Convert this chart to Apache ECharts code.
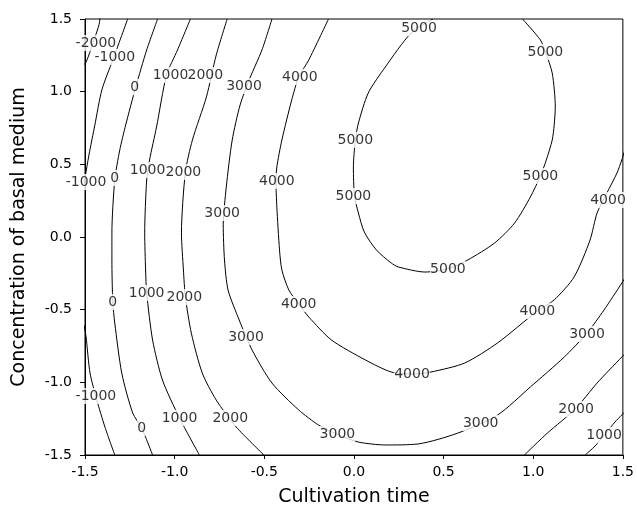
<!DOCTYPE html>
<html>
<head>
<meta charset="utf-8">
<script src="https://cdn.jsdelivr.net/npm/echarts@6/dist/echarts.min.js"></script>
<style>
  html, body { margin: 0; padding: 0; background: #fff; }
  #chart { width: 637px; height: 513px; }
</style>
</head>
<body>
<div id="chart"></div>
<script>
// contour lines, as [cultivation time, concentration]
const cM2000 = [[-1.417, 1.52], [-1.417, 1.5], [-1.456, 1.335], [-1.494, 1.204], [-1.52, 1.17]]
const cM1000Top = [[-1.262, 1.5], [-1.345, 1.218], [-1.406, 1.012], [-1.445, 0.771], [-1.478, 0.564], [-1.5, 0.406], [-1.511, 0.323]]
const cM1000Bot = [[-1.505, -0.606], [-1.494, -0.688], [-1.472, -0.936], [-1.434, -1.122], [-1.389, -1.307], [-1.334, -1.5]]
const c0 = [[-1.095, 1.5], [-1.156, 1.287], [-1.217, 1.032], [-1.273, 0.771], [-1.306, 0.599], [-1.334, 0.392], [-1.35, 0.028],
  [-1.35, -0.158], [-1.345, -0.447], [-1.334, -0.592], [-1.295, -0.936], [-1.234, -1.211], [-1.184, -1.314], [-1.123, -1.5]]
const c1000 = [[-0.912, 1.5], [-0.984, 1.287], [-1.045, 1.115], [-1.101, 0.757], [-1.14, 0.53], [-1.156, 0.392], [-1.167, 0.028],
  [-1.162, -0.227], [-1.156, -0.385], [-1.123, -0.709], [-1.068, -0.984], [-0.973, -1.245], [-0.862, -1.5]]
const c1000b = [[1.289, -1.5], [1.345, -1.438], [1.456, -1.273], [1.494, -1.225], [1.522, -1.19]]
const c2000 = [[-0.707, 1.5], [-0.768, 1.252], [-0.823, 0.963], [-0.901, 0.667], [-0.94, 0.447], [-0.962, 0.028],
  [-0.951, -0.227], [-0.94, -0.413], [-0.907, -0.661], [-0.846, -0.936], [-0.768, -1.122], [-0.657, -1.307], [-0.502, -1.5]]
const c2000b = [[0.951, -1.5], [1.079, -1.349], [1.234, -1.184], [1.356, -1.005], [1.494, -0.826], [1.522, -0.791]]
const c3000 = [[-0.457, 1.5], [-0.513, 1.287], [-0.58, 1.094], [-0.635, 0.908], [-0.679, 0.667], [-0.712, 0.344], [-0.729, 0.083],
  [-0.722, -0.158], [-0.702, -0.365], [-0.64, -0.571], [-0.568, -0.778], [-0.457, -1.005], [-0.308, -1.19], [-0.197, -1.294],
  [-0.086, -1.362], [0.025, -1.411], [0.175, -1.431], [0.358, -1.424], [0.58, -1.349], [0.801, -1.225], [0.984, -1.032],
  [1.173, -0.826], [1.3, -0.661], [1.395, -0.502], [1.494, -0.317], [1.522, -0.261]]
const c4000 = [[-0.142, 1.5], [-0.252, 1.218], [-0.308, 1.101], [-0.347, 0.943], [-0.402, 0.667], [-0.43, 0.482], [-0.435, 0.385],
  [-0.43, 0.206], [-0.415, -0.089], [-0.402, -0.227], [-0.363, -0.365], [-0.308, -0.461], [-0.252, -0.55], [-0.125, -0.709], [0.064, -0.846],
  [0.208, -0.929], [0.33, -0.943], [0.43, -0.929], [0.618, -0.867], [0.801, -0.729], [1.023, -0.509], [1.117, -0.433],
  [1.228, -0.275], [1.317, -0.021], [1.356, 0.165], [1.411, 0.303], [1.467, 0.44], [1.494, 0.53], [1.511, 0.599]]
const c5000 = [[0.94, 1.5], [1.04, 1.356], [1.068, 1.273], [1.106, 1.128], [1.123, 0.895], [1.117, 0.771], [1.106, 0.667],
  [1.073, 0.53], [1.04, 0.42], [0.984, 0.275], [0.896, 0.096], [0.785, -0.041], [0.635, -0.158], [0.524, -0.22],
  [0.396, -0.241], [0.247, -0.206], [0.208, -0.179], [0.125, -0.089], [0.058, 0.034], [0.025, 0.165], [0.003, 0.282],
  [-0.003, 0.482], [0.008, 0.667], [0.025, 0.784], [0.08, 0.991], [0.175, 1.17], [0.319, 1.404], [0.441, 1.5]]

const contourLines = [cM2000, cM1000Top, cM1000Bot, c0, c1000, c1000b, c2000, c2000b, c3000, c4000, c5000]

// label positions on the lines: [x, y, level]
const contourLabels = [
  [-1.439, 1.335, -2000], [-1.334, 1.238, -1000], [-1.494, 0.378, -1000], [-1.439, -1.094, -1000],
  [-1.223, 1.032, 0], [-1.334, 0.406, 0], [-1.345, -0.447, 0], [-1.184, -1.314, 0],
  [-1.023, 1.115, 1000], [-1.151, 0.461, 1000], [-1.156, -0.385, 1000], [-0.973, -1.245, 1000], [1.395, -1.362, 1000],
  [-0.829, 1.115, 2000], [-0.951, 0.447, 2000], [-0.946, -0.413, 2000], [-0.69, -1.245, 2000], [1.239, -1.184, 2000],
  [-0.613, 1.039, 3000], [-0.735, 0.165, 3000], [-0.602, -0.688, 3000], [-0.092, -1.356, 3000], [0.707, -1.28, 3000], [1.3, -0.667, 3000],
  [-0.302, 1.101, 4000], [-0.43, 0.385, 4000], [-0.308, -0.461, 4000], [0.324, -0.943, 4000], [1.023, -0.509, 4000], [1.417, 0.255, 4000],
  [0.363, 1.438, 5000], [1.068, 1.273, 5000], [1.04, 0.42, 5000], [0.008, 0.667, 5000], [-0.003, 0.282, 5000], [0.524, -0.22, 5000]
]

const axisMin = -1.5
const axisMax = 1.5
const axisStep = 0.5

const font = 'DejaVu Sans'
const chart = echarts.init(document.getElementById('chart'))

const series = contourLines.map((pts) => ({
  type: 'line',
  data: pts,
  symbol: 'none',
  smooth: 0.25,
  silent: true,
  z: 2,
  lineStyle: { color: '#000', width: 1 },
}))

series.push({
  type: 'scatter',
  data: contourLabels,
  symbolSize: 1,
  clip: false,
  silent: true,
  z: 5,
  itemStyle: { color: 'rgba(0,0,0,0)' },
  label: {
    show: true,
    position: 'inside',
    formatter: (p) => String(p.value[2]),
    color: '#000',
    fontFamily: font,
    fontSize: 14,
    backgroundColor: '#fff',
    padding: [1, 0],
  },
})

const option = {
  backgroundColor: '#fff',
  animation: false,
  grid: {
    left: 85,
    right: 11,
    top: 19,
    bottom: 58,
    show: true,
    borderColor: '#000',
    borderWidth: 1,
  },
  xAxis: {
    type: 'value',
    min: axisMin,
    max: axisMax,
    interval: axisStep,
    name: 'Cultivation time',
    nameLocation: 'middle',
    nameGap: 33,
    nameTextStyle: { fontFamily: font, fontSize: 19, color: '#000' },
    axisLine: { onZero: false, lineStyle: { color: '#000' } },
    axisTick: { inside: false, length: 4, lineStyle: { color: '#000' } },
    axisLabel: { margin: 10, fontFamily: font, fontSize: 14, color: '#000', formatter: (v) => v.toFixed(1) },
    splitLine: { show: false },
  },
  yAxis: {
    type: 'value',
    min: axisMin,
    max: axisMax,
    interval: axisStep,
    name: 'Concentration of basal medium',
    nameLocation: 'middle',
    nameGap: 56,
    nameTextStyle: { fontFamily: font, fontSize: 19, color: '#000' },
    axisLine: { onZero: false, lineStyle: { color: '#000' } },
    axisTick: { inside: false, length: 5, lineStyle: { color: '#000' } },
    axisLabel: { margin: 13, fontFamily: font, fontSize: 14, color: '#000', formatter: (v) => v.toFixed(1) },
    splitLine: { show: false },
  },
  series: series,
}

chart.setOption(option)
</script>
</body>
</html>
